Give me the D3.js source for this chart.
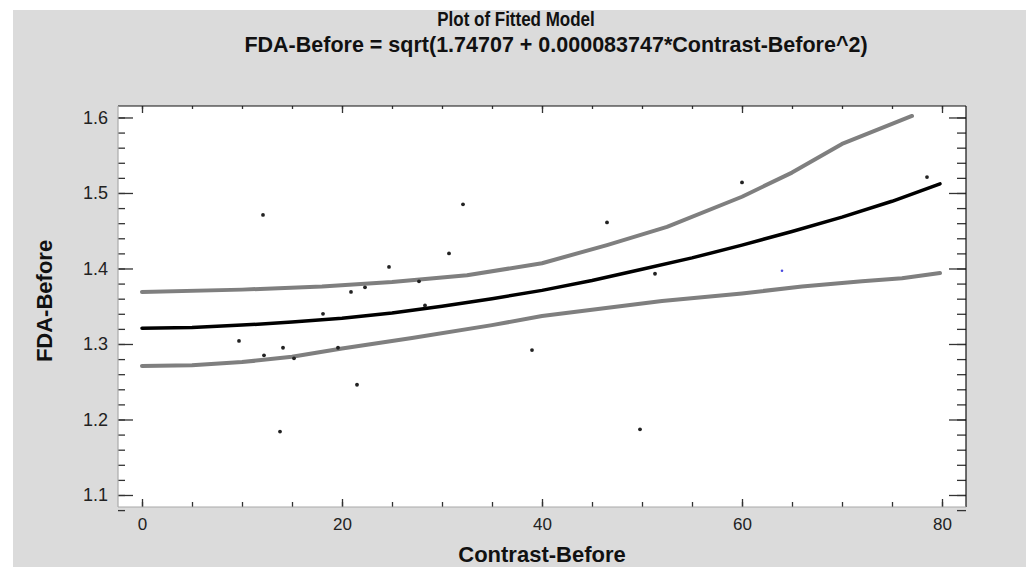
<!DOCTYPE html>
<html>
<head>
<meta charset="utf-8">
<script src="https://cdn.jsdelivr.net/npm/d3@7"></script>
<style>
  body { margin: 0; background: #fff; }
  svg { display: block; }
</style>
</head>
<body>
<div id="chart"></div>
<script>
// observed points (Contrast-Before, FDA-Before)
var contrast_before = [9.7, 12.1, 12.2, 13.8, 14.1, 15.2, 18.1, 19.6, 20.9, 21.5, 22.3,
                       24.7, 27.7, 28.3, 30.7, 32.1, 39.0, 46.5, 49.8, 51.3, 60.0, 78.5];
var fda_before = [1.304, 1.471, 1.285, 1.184, 1.295, 1.281, 1.340, 1.295, 1.369, 1.246, 1.375,
                  1.402, 1.383, 1.351, 1.420, 1.485, 1.292, 1.461, 1.187, 1.393, 1.514, 1.521];
// the single blue marked point
var marked_x = [64.0];
var marked_y = [1.397];

// fitted model line
var fit_x = [0, 5, 10, 15, 20, 25, 30, 35, 40, 45, 50, 55, 60, 65, 70, 75, 79.8];
var fit_y = [1.321, 1.322, 1.325, 1.329, 1.334, 1.341, 1.350, 1.360, 1.371, 1.384, 1.399,
             1.414, 1.431, 1.449, 1.468, 1.489, 1.512];
// upper limit
var upper_x = [0, 10, 18, 25, 32.5, 40, 46.5, 52.5, 60, 65, 70, 77];
var upper_y = [1.369, 1.372, 1.376, 1.382, 1.391, 1.407, 1.431, 1.455, 1.495, 1.527, 1.565, 1.602];
// lower limit
var lower_x = [0, 5, 10, 15, 20, 27, 35, 40, 46, 52, 60, 66, 72, 76, 79.8];
var lower_y = [1.271, 1.272, 1.276, 1.283, 1.294, 1.308, 1.325, 1.337, 1.347, 1.357, 1.367,
               1.376, 1.383, 1.387, 1.394];

var x_ticks = [0, 20, 40, 60, 80];
var x_minor = [0, 5, 10, 15, 20, 25, 30, 35, 40, 45, 50, 55, 60, 65, 70, 75, 80];
var y_ticks = [1.1, 1.2, 1.3, 1.4, 1.5, 1.6];
var y_minor = d3.range(54, 81).map(function(i) { return i / 50; });

var title_1 = "Plot of Fitted Model";
var title_2 = "FDA-Before = sqrt(1.74707 + 0.000083747*Contrast-Before^2)";
var x_title = "Contrast-Before";
var y_title = "FDA-Before";

var W = 1029, H = 567;
var font = "'Liberation Sans', Arial, sans-serif";
var plot = {left: 118, right: 966, top: 106, bottom: 507};

var svg = d3.select("#chart").append("svg")
    .attr("width", W)
    .attr("height", H);

svg.append("rect")
    .attr("x", 13).attr("y", 10)
    .attr("width", 1013).attr("height", H - 10)
    .attr("fill", "#dbdbdb");

svg.append("rect")
    .attr("x", plot.left).attr("y", plot.top)
    .attr("width", plot.right - plot.left).attr("height", plot.bottom - plot.top)
    .attr("fill", "#fff");

var x = d3.scaleLinear().domain([-2.4, 82.4]).range([plot.left, plot.right]);
var y = d3.scaleLinear().domain([1.0841, 1.6152]).range([plot.bottom, plot.top]);

function style_axis(g, size) {
  g.select(".domain").remove();
  g.selectAll(".tick line").attr("stroke", "#333").attr("stroke-width", 1.3);
  g.selectAll("text").attr("fill", "#222").style("font-family", font).style("font-size", (size || 17) + "px");
}

// minor ticks
svg.append("g").attr("transform", "translate(0," + plot.bottom + ")")
    .call(d3.axisBottom(x).tickValues(x_minor).tickSize(-5).tickFormat(""))
    .call(style_axis);
svg.append("g").attr("transform", "translate(0," + plot.top + ")")
    .call(d3.axisTop(x).tickValues(x_minor).tickSize(-3).tickFormat(""))
    .call(style_axis);
svg.append("g").attr("transform", "translate(" + plot.left + ",0)")
    .call(d3.axisLeft(y).tickValues(y_minor).tickSize(-7).tickFormat(""))
    .call(style_axis);
svg.append("g").attr("transform", "translate(" + plot.right + ",0)")
    .call(d3.axisRight(y).tickValues(y_minor).tickSize(-9).tickFormat(""))
    .call(style_axis);

// major ticks + labels
svg.append("g").attr("transform", "translate(0," + plot.bottom + ")")
    .call(d3.axisBottom(x).tickValues(x_ticks).tickSize(-8).tickPadding(11).tickFormat(d3.format("d")))
    .call(style_axis, 17);
svg.append("g").attr("transform", "translate(0," + plot.top + ")")
    .call(d3.axisTop(x).tickValues(x_ticks).tickSize(-7).tickFormat(""))
    .call(style_axis);
svg.append("g").attr("transform", "translate(" + plot.left + ",0)")
    .call(d3.axisLeft(y).tickValues(y_ticks).tickSize(-15).tickPadding(10).tickFormat(d3.format(".1f")))
    .call(style_axis, 18);
svg.append("g").attr("transform", "translate(" + plot.right + ",0)")
    .call(d3.axisRight(y).tickValues(y_ticks).tickSize(-17).tickFormat(""))
    .call(style_axis);

// frame
svg.append("line").attr("x1", plot.left).attr("x2", plot.right).attr("y1", plot.top).attr("y2", plot.top)
    .attr("stroke", "#111").attr("stroke-width", 1.2);
svg.append("line").attr("x1", plot.right).attr("x2", plot.right).attr("y1", plot.top).attr("y2", plot.bottom)
    .attr("stroke", "#111").attr("stroke-width", 1.2);
svg.append("line").attr("x1", plot.left).attr("x2", plot.right).attr("y1", plot.bottom).attr("y2", plot.bottom)
    .attr("stroke", "#aaa").attr("stroke-width", 1.2);
svg.append("line").attr("x1", plot.left).attr("x2", plot.left).attr("y1", plot.top).attr("y2", plot.bottom)
    .attr("stroke", "#aaa").attr("stroke-width", 1.2);

// lines
var line = d3.line()
    .x(function(d) { return x(d[0]); })
    .y(function(d) { return y(d[1]); });

svg.append("path")
    .datum(d3.zip(upper_x, upper_y))
    .attr("d", line)
    .attr("fill", "none").attr("stroke", "#7f7f7f").attr("stroke-width", 4)
    .attr("stroke-linecap", "round").attr("stroke-linejoin", "round");
svg.append("path")
    .datum(d3.zip(lower_x, lower_y))
    .attr("d", line)
    .attr("fill", "none").attr("stroke", "#7f7f7f").attr("stroke-width", 4)
    .attr("stroke-linecap", "round").attr("stroke-linejoin", "round");
svg.append("path")
    .datum(d3.zip(fit_x, fit_y))
    .attr("d", line)
    .attr("fill", "none").attr("stroke", "#000").attr("stroke-width", 3.5)
    .attr("stroke-linecap", "round").attr("stroke-linejoin", "round");

// points
svg.append("g").selectAll("circle")
    .data(d3.zip(contrast_before, fda_before))
    .enter().append("circle")
    .attr("cx", function(d) { return x(d[0]); })
    .attr("cy", function(d) { return y(d[1]); })
    .attr("r", 1.9)
    .attr("fill", "#222");
svg.append("g").selectAll("circle")
    .data(d3.zip(marked_x, marked_y))
    .enter().append("circle")
    .attr("cx", function(d) { return x(d[0]); })
    .attr("cy", function(d) { return y(d[1]); })
    .attr("r", 1.3)
    .attr("fill", "#4a4adf");

// titles
svg.append("text")
    .attr("transform", "translate(516,26) scale(0.85,1)")
    .attr("text-anchor", "middle")
    .style("font-family", font).style("font-size", "20px").style("font-weight", "bold")
    .attr("fill", "#111")
    .text(title_1);
svg.append("text")
    .attr("x", 556).attr("y", 52)
    .attr("text-anchor", "middle")
    .style("font-family", font).style("font-size", "21.5px").style("font-weight", "bold")
    .attr("fill", "#111")
    .text(title_2);
svg.append("text")
    .attr("x", 542).attr("y", 562)
    .attr("text-anchor", "middle")
    .style("font-family", font).style("font-size", "22px").style("font-weight", "bold")
    .attr("fill", "#111")
    .text(x_title);
svg.append("text")
    .attr("transform", "translate(52,301) rotate(-90)")
    .attr("text-anchor", "middle")
    .style("font-family", font).style("font-size", "22px").style("font-weight", "bold")
    .attr("fill", "#111")
    .text(y_title);
</script>
</body>
</html>
